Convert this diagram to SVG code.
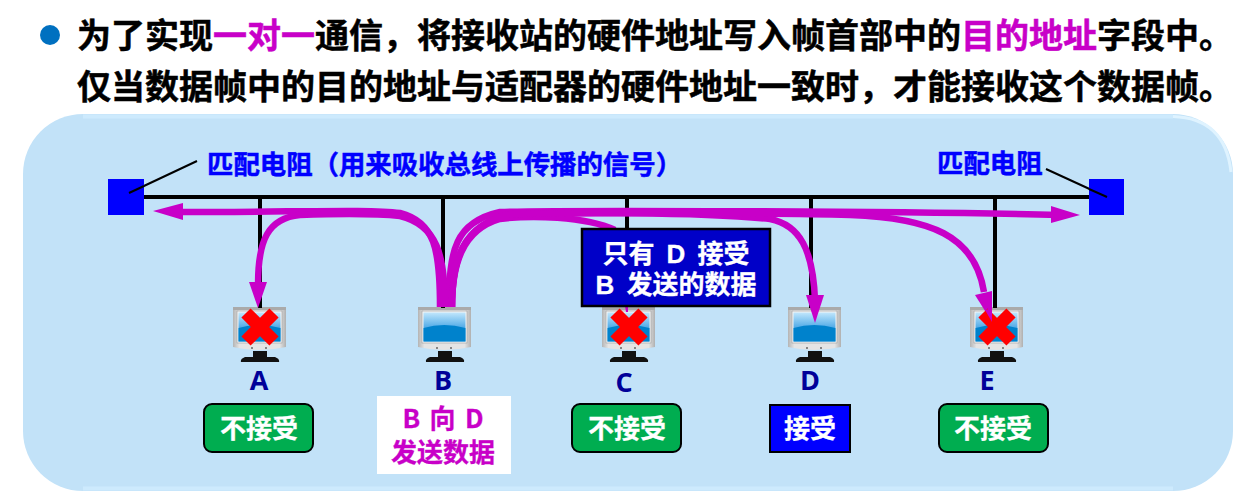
<svg xmlns="http://www.w3.org/2000/svg" width="1255" height="497" viewBox="0 0 1255 497">
<style>
text{font-family:"Noto Sans CJK SC","Liberation Sans",sans-serif;font-weight:700;word-spacing:3.500px}
.h{font-size:34px;fill:#000;stroke:#000;stroke-width:.5}
.m{fill:#c800c8;stroke:#c800c8}
.lab{font-size:26.400px;fill:#0000ff;stroke:#0000ff;stroke-width:.5}
.nm{font-size:27px;fill:#000099;text-anchor:middle;font-family:"Open Sans","Noto Sans CJK SC",sans-serif}
.w{font-size:26px;fill:#fff;stroke:#fff;stroke-width:.3;text-anchor:middle}
.n{font-family:"Liberation Sans","Noto Sans CJK SC",sans-serif;font-size:26px;word-spacing:5px}
.p{font-size:26px;fill:#c800c8;stroke:#c800c8;stroke-width:.3;text-anchor:middle}
.bus{stroke:#000;stroke-width:4;fill:none}
.lead{stroke:#000;stroke-width:2;fill:none}
.fl{stroke:#c800c8;stroke-width:6.500px;fill:none}
.ah{fill:#c800c8}
.g{fill:#00ad50;stroke:#000;stroke-width:2}
.x{stroke:#ff0000;stroke-width:13;fill:none}
</style>
<defs>
<linearGradient id="sc" x1="0" y1="0" x2="0" y2="1"><stop offset="0" stop-color="#c0e6fc"/><stop offset="0.5" stop-color="#55ade8"/></linearGradient>
<linearGradient id="fr" x1="0" y1="0" x2="1" y2="0"><stop offset="0" stop-color="#b4b4b4"/><stop offset="0.12" stop-color="#e4e4e4"/><stop offset="0.88" stop-color="#e4e4e4"/><stop offset="1" stop-color="#b0b0b0"/></linearGradient>
<g id="mon">
<path d="M0 0H53V40Q26 46 0 40Z" fill="url(#fr)"/>
<rect x="0" y="0" width="53" height="3" fill="#aaa"/>
<rect x="4" y="4" width="45" height="32" fill="#f4f4f4" stroke="#999" stroke-width=".6"/>
<rect x="5.500" y="5.500" width="42" height="29" fill="url(#sc)"/>
<path d="M5.500 21Q26 15 47.500 21V34.500H5.500Z" fill="#0082cc"/>
<circle cx="19" cy="41" r="1" fill="#666"/><circle cx="33" cy="41" r="1" fill="#666"/>
<rect x="20" y="44" width="14" height="7" fill="#111"/>
<path d="M12 50H42Q47 52 46 55H8Q7 52 12 50Z" fill="#111"/>
</g>
<path id="cross" class="x" d="M-14 -14L14 14M14 -14L-14 14"/>
</defs>
<g id="bullet"><circle cx="50" cy="35" r="10" fill="#0070c0"/></g>
<g id="title">
<text class="h" x="77" y="48">为了实现<tspan class="m">一对一</tspan>通信，将接收站的硬件地址写入帧首部中的<tspan class="m">目的地址</tspan>字段中。</text>
<text class="h" x="77" y="99">仅当数据帧中的目的地址与适配器的硬件地址一致时，才能接收这个数据帧。</text>
</g>
<g id="panel">
<rect x="23" y="114" width="1210" height="377" rx="60" fill="#c2e2f8"/>
<path d="M83 116.500H1173" fill="none" stroke="#cdeafd" stroke-width="4"/>
<path d="M1173 116.500Q1225 118 1231 172" fill="none" stroke="#dff3ff" stroke-width="3"/>
<path d="M83 488.500H1173" fill="none" stroke="#cdeafd" stroke-width="4"/>
</g>
<g id="node-a"><use href="#mon" x="233" y="307"/><text class="nm" x="259" y="390">A</text><rect class="g" x="204" y="404" width="109" height="48" rx="8"/><text class="w" x="259" y="438">不接受</text></g>
<g id="node-b"><use href="#mon" x="418" y="307"/><text class="nm" x="443" y="390">B</text><rect x="377" y="396" width="134" height="78" fill="#fff"/><text class="p" x="443" y="428">B 向 D</text><text class="p" x="443" y="462">发送数据</text></g>
<g id="node-c"><use href="#mon" x="602" y="307"/><text class="nm" x="624" y="392">C</text><rect class="g" x="572" y="404" width="109" height="48" rx="8"/><text class="w" x="627" y="438">不接受</text></g>
<g id="node-d"><use href="#mon" x="788" y="307"/><text class="nm" x="810" y="390">D</text><rect x="770" y="405" width="80" height="47" fill="#0000ff" stroke="#000" stroke-width="2"/><text class="w" x="810" y="438">接受</text></g>
<g id="node-e"><use href="#mon" x="970" y="307"/><text class="nm" x="987" y="390">E</text><rect class="g" x="939" y="404" width="109" height="48" rx="8"/><text class="w" x="993" y="438">不接受</text></g>
<g id="connectors">
<path class="bus" d="M144 197H1090M260 197V308M443 197V308M627 197V230M811 197V308M995 197V308"/>
<path class="lead" d="M129 193L197 161M1046 169L1107 197"/>
<path class="fl" d="M440 307C440 250 435 222 400 213C370 209 300 212 180 212"/>
<path class="ah" d="M153 211L183 203V220Z"/>
<path class="fl" d="M445 307C445 255 437 225 400 216C370 213 330 214 300 215C268 218 258 240 258 285"/>
<path class="ah" d="M258 308L249 282H267Z"/>
<path class="fl" d="M449 307C449 250 455 222 500 212C560 210 900 211 1060 215"/>
<path class="ah" d="M1080 215L1051 206V223Z"/>
<path class="fl" d="M452 307C452 265 462 230 500 219C530 215 585 216 615 230"/>
<path class="fl" d="M452 307C452 260 462 228 505 215C560 212 700 212 770 219C800 225 813 250 815 300"/>
<path class="ah" d="M815 323L806 295H824Z"/>
<path class="fl" d="M452 307C452 260 462 225 510 214C600 212 780 213 850 215C930 218 975 235 984 292"/>
<path class="ah" d="M992 322L975 295L992 291Z"/>
<path class="ah" d="M625 306H628V312H626Z"/>
</g>
<g id="crosses"><use href="#cross" x="260" y="327"/><use href="#cross" x="629" y="327"/><use href="#cross" x="997" y="327"/></g>
<path class="ah" d="M992 322L985 310L992 308Z"/>
<g id="term-left"><rect x="108" y="179" width="36" height="36" fill="#0000ff"/><path class="lead" d="M129 193L144 186"/></g>
<g id="term-right"><rect x="1089" y="179" width="35" height="36" fill="#0000ff"/><path class="lead" d="M1089 189L1107 197"/></g>
<g id="label-left"><text class="lab" x="207" y="174">匹配电阻（用来吸收总线上传播的信号）</text></g>
<g id="label-right"><text class="lab" x="937" y="173">匹配电阻</text></g>
<g id="note"><rect x="582" y="229" width="188" height="77" fill="#0000c8" stroke="#000" stroke-width="2.500"/><text class="w n" x="676" y="263">只有 D 接受</text><text class="w n" x="676" y="294">B 发送的数据</text></g>
</svg>
